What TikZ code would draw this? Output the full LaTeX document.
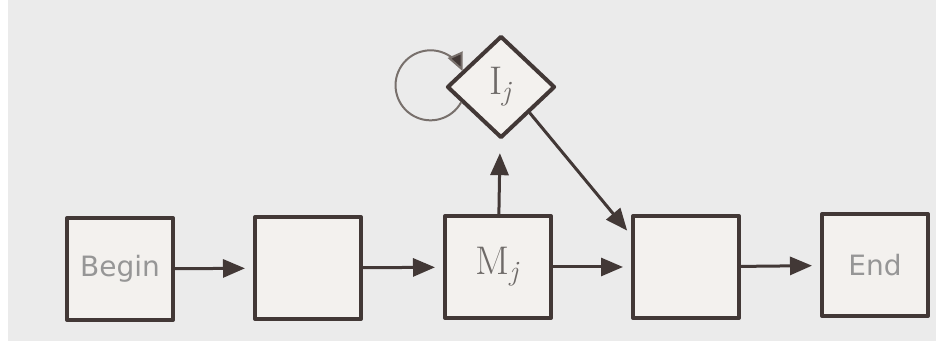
\documentclass[tikz,border=0pt]{standalone}
\usepackage{fontspec}
\newfontfamily\labelfont{DejaVu Sans}
\usetikzlibrary{arrows.meta,shapes.geometric}
\definecolor{paper}{RGB}{235,235,235}
\definecolor{boxfill}{RGB}{243,241,238}
\definecolor{boxline}{RGB}{66,56,54}
\definecolor{loopline}{RGB}{120,112,108}
\definecolor{wordgray}{RGB}{150,150,150}
\definecolor{symgray}{RGB}{110,106,104}

\begin{document}
\begin{tikzpicture}[x=0.5pt,y=0.5pt,line join=round,
  stage/.style={rectangle,draw=boxline,fill=boxfill,line width=2pt,minimum width=53pt,minimum height=51pt,inner sep=0pt},
  test/.style={diamond,draw=boxline,fill=boxfill,line width=2pt,minimum width=54pt,minimum height=51pt,inner sep=0pt},
  flow/.style={-{Triangle[length=11pt,width=9pt]},draw=boxline,line width=1.5pt,shorten >=4pt},
  word/.style={font=\labelfont\fontsize{14}{16}\selectfont,text=wordgray},
  sym/.style={font=\fontsize{20}{24}\selectfont,text=symgray}]
\useasboundingbox (0,0) rectangle (936,341);
\fill[paper] (8,0) rectangle (936,341);
% the five stages along the bottom
\node[stage,word] (begin) at (120,72) {Begin};
\node[stage] (second) at (308,73) {};
\node[stage,sym] (mj) at (498,74) {M\textsubscript{\textit{j}}};
\node[stage] (fourth) at (686,74) {};
\node[stage,word] (end) at (875,76) {End};
% the test above M_j
\node[test,sym] (ij) at (501,254) {I\textsubscript{\textit{j}}};
% connectors
\draw[flow] (begin) -- (second);
\draw[flow] (second) -- (mj);
\draw[flow] (mj) -- (fourth);
\draw[flow] (fourth) -- (end);
\draw[flow,shorten >=7pt] (mj) -- (ij);
\draw[flow,shorten >=3pt] (ij.-42) -- (fourth.150);
% self loop on the test
\draw[loopline,line width=1pt,-{Triangle[length=9pt,width=8pt,fill=boxline]}] (ij.201) arc[start angle=-29,end angle=-336,radius=35];
\end{tikzpicture}
\end{document}
